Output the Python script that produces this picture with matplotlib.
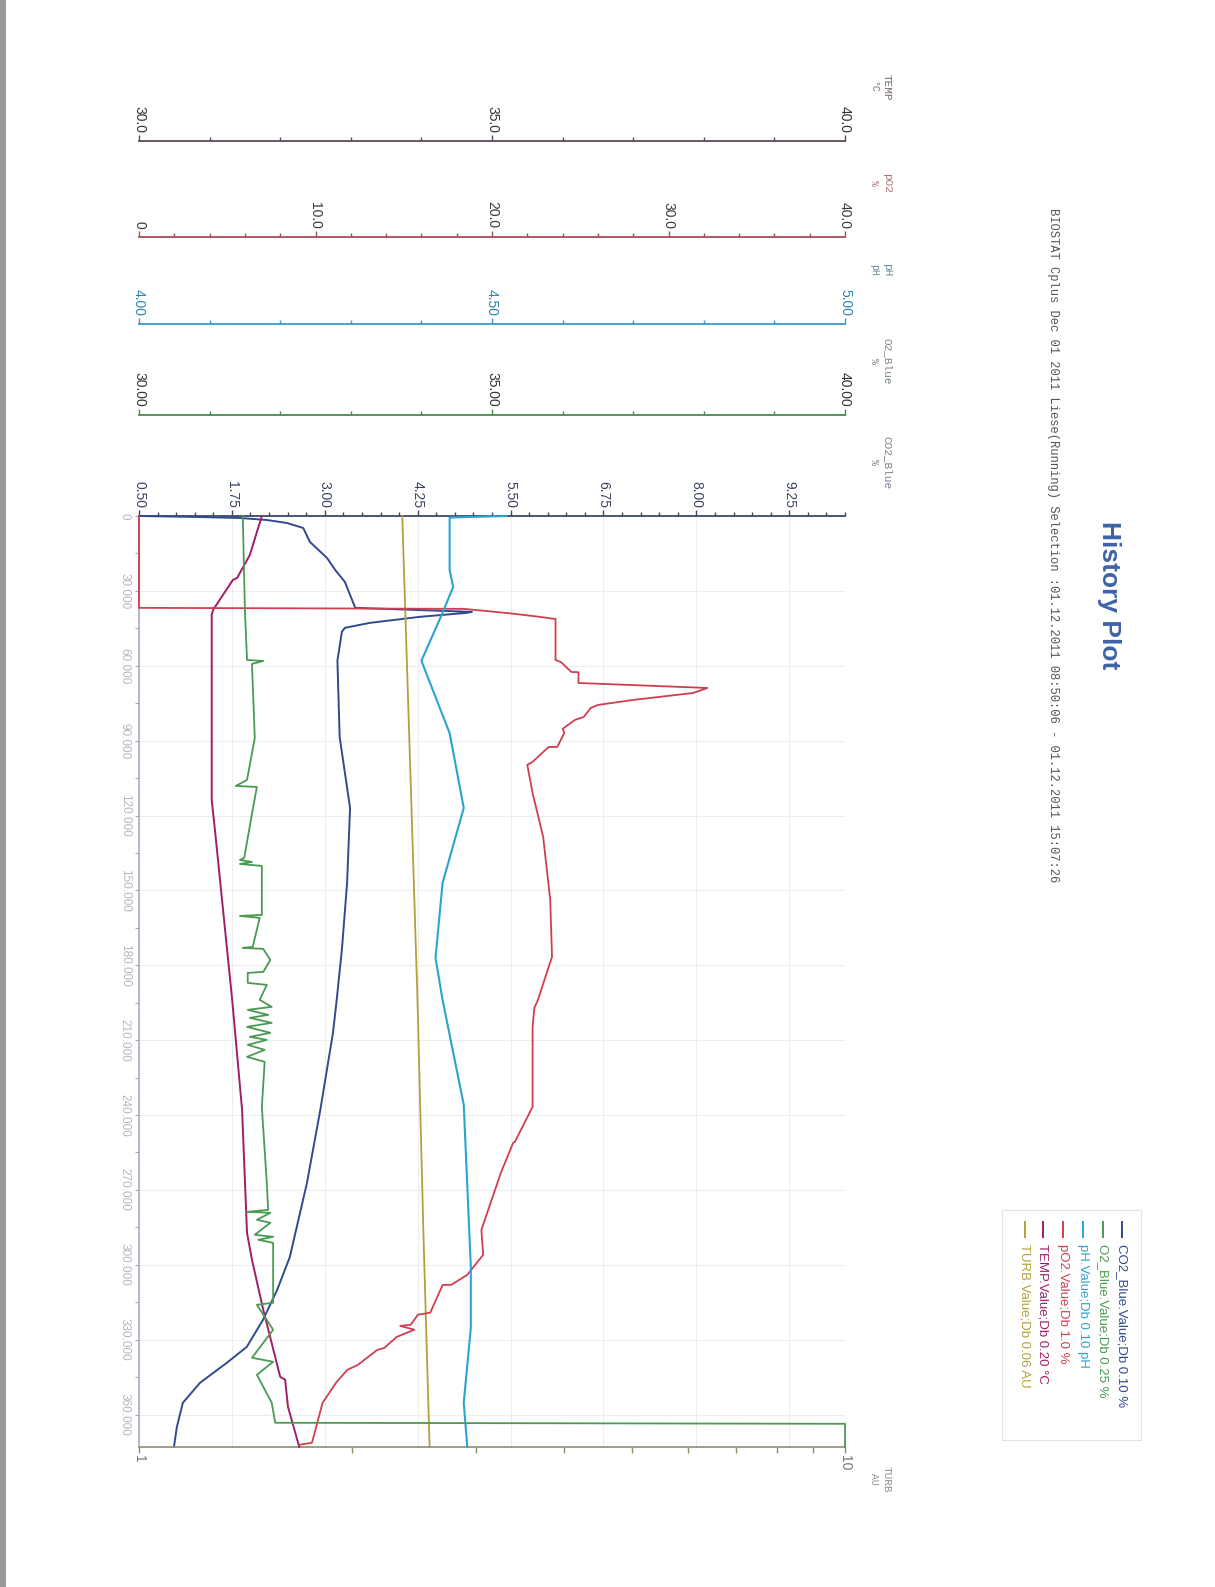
import numpy as np
import matplotlib.pyplot as plt
from matplotlib.lines import Line2D
from matplotlib.patches import Rectangle
from matplotlib.ticker import FixedLocator, NullFormatter

plt.rcParams['font.family'] = ['Liberation Sans', 'DejaVu Sans']

W, H = 1215, 1587

def fx(x):
    return x / W

def fy(y):
    return 1 - y / H

# plot box in page pixels (page is printed sideways)
X0, X1 = 139, 845
Y0, Y1 = 516, 1447

# time axis
t_end = 373000
time_ticks = [0, 30000, 60000, 90000, 120000, 150000, 180000, 210000,
              240000, 270000, 300000, 330000, 360000]
time_labels = ['0', '30.000', '60.000', '90.000', '120.000', '150.000', '180.000',
               '210.000', '240.000', '270.000', '300.000', '330.000', '360.000']

# value axes
co2_ticks = [0.50, 1.75, 3.00, 4.25, 5.50, 6.75, 8.00, 9.25]
co2_labels = ['0.50', '1.75', '3.00', '4.25', '5.50', '6.75', '8.00', '9.25']
temp_ticks = [30, 35, 40]
temp_labels = ['30.0', '35.0', '40.0']
po2_ticks = [0, 10, 20, 30, 40]
po2_labels = ['0', '10.0', '20.0', '30.0', '40.0']
ph_ticks = [4.0, 4.5, 5.0]
ph_labels = ['4.00', '4.50', '5.00']
o2_ticks = [30, 35, 40]
o2_labels = ['30.00', '35.00', '40.00']
turb_ticks = [1, 10]
turb_labels = ['1', '10']
turb_minor = [2, 3, 4, 5, 6, 7, 8, 9]

# series
co2_t = [0, 400, 800, 1600, 2800, 4800, 10400, 16800, 21600, 26400, 36800, 38400,
         38800, 40400, 42800, 44800, 46400, 58000, 88500, 117000, 147000, 173800,
         193900, 207100, 237900, 267200, 296800, 310000, 322000, 332900, 339300,
         347300, 355300, 364900, 373000]
co2_v = [0.50, 1.30, 1.86, 2.22, 2.49, 2.71, 2.80, 3.03, 3.14, 3.27, 3.41, 4.98,
         4.91, 4.28, 3.61, 3.27, 3.23, 3.17, 3.20, 3.34, 3.30, 3.23,
         3.16, 3.11, 2.94, 2.76, 2.53, 2.36, 2.17, 1.95, 1.68,
         1.32, 1.09, 1.01, 0.97]

o2_t = [0, 37650, 57680, 58080, 59280, 88920, 105740, 108150, 108550, 117760,
        136990, 137800, 138600, 139400, 140200, 159820, 160220, 161020, 172640,
        173030, 173430, 177840, 182640, 183050, 187050, 187860, 193860, 196660,
        197860, 199870, 201070, 203070, 204670, 207080, 208680, 209880, 211880,
        213890, 216690, 218690, 236720, 267160, 277980, 278780, 279180, 281980,
        283180, 287990, 288790, 289990, 291190, 315220, 316020, 326040, 337250,
        338860, 344070, 355280, 363290, 363700, 373000]
o2_v = [31.47, 31.50, 31.53, 31.76, 31.60, 31.64, 31.53, 31.37, 31.67, 31.61,
        31.49, 31.43, 31.60, 31.43, 31.74, 31.74, 31.43, 31.71, 31.61,
        31.47, 31.76, 31.86, 31.76, 31.54, 31.54, 31.81, 31.71, 31.88,
        31.54, 31.83, 31.57, 31.88, 31.53, 31.86, 31.57, 31.81, 31.54,
        31.78, 31.53, 31.78, 31.74, 31.81, 31.83, 31.53, 31.86, 31.67,
        31.86, 31.64, 31.90, 31.69, 31.90, 31.90, 31.67, 31.90, 31.60,
        31.90, 31.67, 31.88, 31.93, 40.00, 40.00]

ph_t = [0, 600, 21600, 28400, 38800, 58000, 87000, 117000, 147000, 177000,
        193900, 235900, 300800, 325200, 355300, 373000]
ph_v = [4.52, 4.44, 4.44, 4.445, 4.43, 4.40, 4.44, 4.46, 4.43, 4.42,
        4.43, 4.46, 4.47, 4.47, 4.46, 4.465]

po2_t = [0, 36800, 37200, 38900, 40400, 41300, 57700, 58500, 62500, 62600, 66900,
         68900, 70900, 73700, 75700, 76900, 80500, 81700, 85300, 86900, 92500,
         92600, 98500, 99700, 111000, 128600, 153800, 176600, 193900, 197100,
         204700, 236700, 250700, 251100, 263200, 286000, 296000, 304000, 308000,
         308100, 319200, 320000, 324000, 324500, 326000, 328900, 333300, 334100,
         340100, 342100, 346900, 355300, 371300, 372100]
po2_v = [0.0, 0.0, 18.4, 20.9, 22.7, 23.6, 23.6, 23.9, 24.5, 24.9, 24.9,
         32.2, 31.4, 28.0, 26.0, 25.6, 25.2, 24.7, 24.0, 24.1, 23.7,
         23.2, 22.3, 22.0, 22.3, 22.9, 23.3, 23.4, 22.6, 22.4,
         22.3, 22.3, 21.3, 21.2, 20.5, 19.4, 19.5, 18.6, 17.7,
         17.2, 16.5, 15.8, 15.4, 14.8, 15.6, 14.6, 13.9, 13.5,
         12.4, 11.8, 11.2, 10.4, 9.8, 9.1]

temp_t = [0, 15600, 24800, 25600, 37600, 39600, 113800, 127000, 193900, 237900,
          287200, 298000, 318000, 344900, 346000, 356900, 373000]
temp_v = [31.74, 31.57, 31.39, 31.33, 31.05, 31.03, 31.03, 31.08, 31.32, 31.46,
          31.53, 31.60, 31.76, 32.00, 32.07, 32.11, 32.27]

turb_t = [0, 113800, 193900, 290000, 373000]
turb_v = [2.36, 2.43, 2.48, 2.53, 2.58]

legend_labels = ['CO2_Blue.Value;Db 0.10 %', 'O2_Blue.Value;Db 0.25 %',
                 'pH.Value;Db 0.10 pH', 'pO2.Value;Db 1.0 %',
                 'TEMP.Value;Db 0.20 °C', 'TURB.Value;Db 0.06 AU']

c_co2 = '#2f4b8e'
c_o2 = '#4b9a52'
c_ph = '#2aa3d3'
c_po2 = '#cf3f4f'
c_temp = '#a11d66'
c_turb = '#b3a03c'

fig = plt.figure(figsize=(W / 100, H / 100), dpi=100)
fig.patch.set_facecolor('white')

rect = [fx(X0), fy(Y1), fx(X1) - fx(X0), (Y1 - Y0) / H]

# main axes: CO2 on top spine, time on left spine
ax = fig.add_axes(rect)
ax.set_xlim(0.5, 10)
ax.set_ylim(t_end, 0)
ax.set_facecolor('none')
ax.set_axisbelow(True)
ax.xaxis.tick_top()
ax.set_xticks(co2_ticks)
ax.set_xticklabels(co2_labels, rotation=-90, fontsize=10, color='#3a4460')
ax.set_xticks(np.arange(0.5, 10.01, 0.25), minor=True)
ax.tick_params(axis='x', which='major', direction='out', length=4, width=1,
               color='#3e4766', pad=2)
ax.tick_params(axis='x', which='minor', direction='out', length=3, width=1,
               color='#3e4766')
ax.set_yticks(time_ticks)
ax.set_yticklabels(time_labels, rotation=-90, va='center', fontsize=8.5,
                   color='#b6b6c0')
ax.set_yticks(np.arange(0, t_end, 15000), minor=True)
ax.tick_params(axis='y', which='both', direction='out', length=3, width=0.8,
               color='#a9a9c6', pad=3)
ax.grid(True, which='major', color='#ededed', lw=0.8)
ax.spines['right'].set_visible(False)
ax.spines['bottom'].set_visible(False)
ax.spines['left'].set_color('#a9a9c6')
ax.spines['left'].set_linewidth(1.2)
ax.spines['top'].set_color('#3e4766')
ax.spines['top'].set_linewidth(1.3)


def overlay(lo, hi):
    a = fig.add_axes(rect)
    a.set_xlim(lo, hi)
    a.set_ylim(t_end, 0)
    a.axis('off')
    return a


ax_turb = fig.add_axes(rect)
ax_turb.set_xscale('log')
ax_turb.set_xlim(1, 10)
ax_turb.set_ylim(t_end, 0)
ax_turb.set_facecolor('none')
for s in ['left', 'right', 'top']:
    ax_turb.spines[s].set_visible(False)
ax_turb.spines['bottom'].set_color('#8e8e72')
ax_turb.spines['bottom'].set_linewidth(1.2)
ax_turb.set_yticks([])
ax_turb.xaxis.set_major_locator(FixedLocator(turb_ticks))
ax_turb.set_xticklabels(turb_labels, rotation=-90, fontsize=10, color='#777777')
ax_turb.xaxis.set_minor_locator(FixedLocator(turb_minor))
ax_turb.xaxis.set_minor_formatter(NullFormatter())
ax_turb.tick_params(axis='x', which='both', direction='out', length=4, width=1,
                    color='#8e8e72', pad=2)
ax_turb.plot(turb_v, turb_t, color=c_turb, lw=1.3, clip_on=False)

ax_temp = overlay(30, 40)
ax_temp.plot(temp_v, temp_t, color=c_temp, lw=1.4, clip_on=False)
ax_po2 = overlay(0, 40)
ax_po2.plot(po2_v, po2_t, color=c_po2, lw=1.3, clip_on=False)
ax_ph = overlay(4, 5)
ax_ph.plot(ph_v, ph_t, color=c_ph, lw=1.5, clip_on=False)
ax_o2 = overlay(30, 40)
ax_o2.plot(o2_v, o2_t, color=c_o2, lw=1.3, clip_on=False)
ax.plot(co2_v, co2_t, color=c_co2, lw=1.4, clip_on=False, zorder=3)


def axis_bar(y, lo, hi, ticks, labels, minor, line_c, lab_c, title, unit, title_c):
    a = fig.add_axes([fx(X0), fy(y), fx(X1) - fx(X0), 0.0001])
    a.set_xlim(lo, hi)
    a.set_yticks([])
    a.patch.set_alpha(0)
    for s in ['left', 'right', 'bottom']:
        a.spines[s].set_visible(False)
    a.spines['top'].set_color(line_c)
    a.spines['top'].set_linewidth(1.3)
    a.xaxis.tick_top()
    a.set_xticks(ticks)
    a.set_xticklabels(labels, rotation=-90, fontsize=10, color=lab_c)
    a.set_xticks(np.arange(lo, hi + minor / 2, minor), minor=True)
    a.tick_params(axis='x', which='major', direction='out', length=4, width=1,
                  color=line_c, pad=2)
    a.tick_params(axis='x', which='minor', direction='out', length=3, width=1,
                  color=line_c)
    axis_title(y - 54, title, unit, title_c)


def axis_title(yc, title, unit, color):
    fig.text(fx(887), fy(yc), title, rotation=-90, rotation_mode='anchor',
             ha='center', va='center', family='Liberation Mono', fontsize=8,
             color=color)
    fig.text(fx(874), fy(yc), unit, rotation=-90, rotation_mode='anchor',
             ha='center', va='center', family='Liberation Mono', fontsize=7,
             color=color)


axis_bar(141, 30, 40, temp_ticks, temp_labels, 1, '#5c4a58', '#333333',
         'TEMP', '°C', '#7a6a70')
axis_bar(237, 0, 40, po2_ticks, po2_labels, 2, '#a44e56', '#3a3a3a',
         'pO2', '%', '#b07070')
axis_bar(324, 4, 5, ph_ticks, ph_labels, 0.1, '#3a9bc8', '#2a86b0',
         'pH', 'pH', '#6a8a9a')
axis_bar(415, 30, 40, o2_ticks, o2_labels, 1, '#4a8a4e', '#333333',
         'O2_Blue', '%', '#7a8a7a')
axis_title(Y0 - 54, 'CO2_Blue', '%', '#7a8090')
axis_title(Y1 + 32, 'TURB', 'AU', '#909088')

# titles
fig.text(fx(1109), fy(521), 'History Plot', rotation=-90, rotation_mode='anchor',
         ha='left', va='center', fontsize=19, fontweight='bold', color='#3c62a8')
fig.text(fx(1053), fy(208),
         'BIOSTAT Cplus Dec 01 2011 Liese(Running) Selection :01.12.2011 08:50:06 - 01.12.2011 15:07:26',
         rotation=-90, rotation_mode='anchor', ha='left', va='center',
         family='Liberation Mono', fontsize=8.7, color='#555555')

# legend
fig.add_artist(Rectangle((fx(1002), fy(1440)), fx(1141) - fx(1002), (1440 - 1210) / H,
                         transform=fig.transFigure, fill=False, ec='#e2e2e2', lw=0.8))
leg_colors = [c_co2, c_o2, c_ph, c_po2, c_temp, c_turb]
leg_x = [1122, 1103, 1083, 1063, 1043, 1025]
for xk, lab, col in zip(leg_x, legend_labels, leg_colors):
    fig.add_artist(Line2D([fx(xk), fx(xk)], [fy(1222), fy(1237)],
                          transform=fig.transFigure, color=col, lw=1.4))
    fig.text(fx(xk), fy(1244), lab, rotation=-90, rotation_mode='anchor',
             ha='left', va='center', fontsize=9.5, color=col)

# scan edge on the left
fig.add_artist(Rectangle((0, 0), fx(6), 1, transform=fig.transFigure,
                         color='#9a9a9a', lw=0))

fig.savefig('out.png', dpi=100)
